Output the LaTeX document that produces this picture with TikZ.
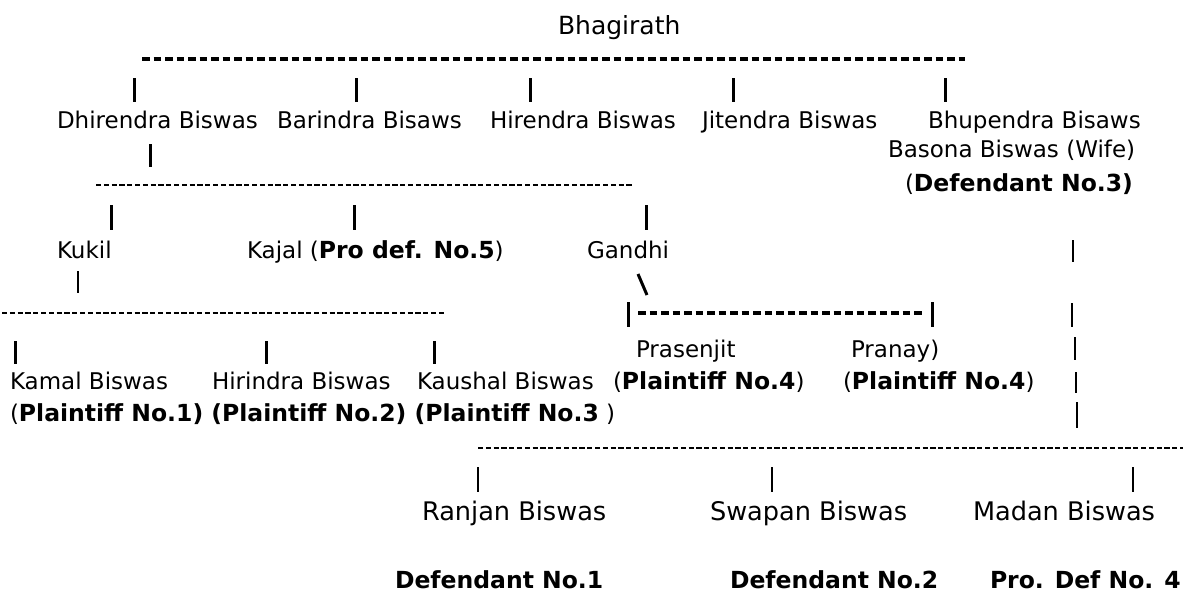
\documentclass[tikz,border=0pt]{standalone}
\usepackage{fontspec}
\setmainfont{DejaVu Sans}
\newcommand\mybf[1]{{\fontsize{23.5}{28}\selectfont\bfseries #1}}
\begin{document}
\begin{tikzpicture}[x=1pt,y=-1pt,
  lbl/.style={anchor=base west, inner sep=0pt, outer sep=0pt, font=\fontsize{23}{28}\selectfont},
  lblbig/.style={lbl, font=\fontsize{25.6}{30}\selectfont},
  lblbold/.style={lbl, font=\fontsize{23.5}{28}\selectfont\bfseries},
  bolddash/.style={line width=3.4pt, dash pattern=on 7.6pt off 3.9pt},
  thindash/.style={line width=1.7pt, dash pattern=on 5.2pt off 2.6pt},
  boldbar/.style={line width=3pt},
  thinbar/.style={line width=1.5pt}]
\useasboundingbox (0,0) rectangle (1183,594);

% generation 1
\node[lbl, font=\fontsize{25}{30}\selectfont] (bhag) at (558,35) {Bhagirath};
\coordinate (r1a) at (142,59); \coordinate (r1b) at (965,59);
\draw[bolddash] (r1a) -- (r1b);
\foreach \i/\x in {1/134,2/356,3/530,4/733,5/945}{
  \coordinate (ta\i) at (\x,78); \coordinate (ba\i) at (\x,102);
  \draw[boldbar] (ta\i) -- (ba\i);
}

% generation 2
\node[lbl] (dhir) at (57,128) {Dhirendra Biswas};
\node[lbl] (bari) at (277,128) {Barindra Bisaws};
\node[lbl] (hire) at (490,128) {Hirendra Biswas};
\node[lbl] (jite) at (702,128) {Jitendra Biswas};
\node[lbl] (bhup) at (928,128) {Bhupendra Bisaws};
\node[lbl] (baso) at (888,157) {Basona Biswas (Wife)};
\node[lbl] (def3) at (905,191) {(\mybf{Defendant No.3)}};

\coordinate (dpa) at (150,144); \coordinate (dpb) at (150,167);
\draw[boldbar] (dpa) -- (dpb);
\coordinate (r2a) at (96,185); \coordinate (r2b) at (634,185);
\draw[thindash] (r2a) -- (r2b);
\foreach \i/\x in {1/111,2/354,3/646}{
  \coordinate (tb\i) at (\x,205); \coordinate (bb\i) at (\x,230);
  \draw[boldbar] (tb\i) -- (bb\i);
}

% generation 3
\node[lbl] (kuki) at (57,258) {Kukil};
\node[lbl] (kaja) at (247,258) {Kajal (\mybf{Pro def. No.5})};
\node[lbl] (gand) at (587,258) {Gandhi};

\coordinate (kpa) at (78,271); \coordinate (kpb) at (78,293);
\draw[thinbar] (kpa) -- (kpb);
\coordinate (bsa) at (638,274); \coordinate (bsb) at (647,295);
\draw[boldbar] (bsa) -- (bsb);
\coordinate (r3a) at (2,313); \coordinate (r3b) at (444,313);
\draw[thindash] (r3a) -- (r3b);
\coordinate (gla) at (628,302); \coordinate (glb) at (628,327);
\coordinate (gra) at (932,302); \coordinate (grb) at (932,327);
\coordinate (gda) at (638,313); \coordinate (gdb) at (922,313);
\draw[boldbar] (gla) -- (glb);
\draw[boldbar] (gra) -- (grb);
\draw[bolddash] (gda) -- (gdb);
\foreach \i/\x in {1/15,2/266,3/434}{
  \coordinate (tc\i) at (\x,341); \coordinate (bc\i) at (\x,364);
  \draw[boldbar] (tc\i) -- (bc\i);
}

% right-hand column of bars
\foreach \i/\x/\ya/\yb in {1/1073/240/262,2/1072/303/327,3/1075/337/360,4/1076/372/393,5/1077/402/428}{
  \coordinate (va\i) at (\x,\ya); \coordinate (vb\i) at (\x,\yb);
  \draw[thinbar] (va\i) -- (vb\i);
}

% generation 4
\node[lbl] (pras) at (636,357) {Prasenjit};
\node[lbl] (pran) at (851,357) {Pranay)};
\node[lbl] (kama) at (10,389) {Kamal Biswas};
\node[lbl] (hiri) at (212,389) {Hirindra Biswas};
\node[lbl] (kaus) at (417,389) {Kaushal Biswas};
\node[lbl] (pl4a) at (613,389) {(\mybf{Plaintiff No.4})};
\node[lbl] (pl4b) at (843,389) {(\mybf{Plaintiff No.4})};
\node[lbl] (pl13) at (10,421) {(\mybf{Plaintiff No.1) (Plaintiff No.2) (Plaintiff No.3} )};

% Bhupendra's sons
\coordinate (r4a) at (478,448); \coordinate (r4b) at (1183,448);
\draw[thindash] (r4a) -- (r4b);
\foreach \i/\x in {1/478,2/772,3/1133}{
  \coordinate (td\i) at (\x,467); \coordinate (bd\i) at (\x,492);
  \draw[line width=2.8pt] (td\i) -- (bd\i);
}
\node[lblbig] (ranj) at (422,520) {Ranjan Biswas};
\node[lblbig] (swap) at (710,520) {Swapan Biswas};
\node[lblbig] (mada) at (973,520) {Madan Biswas};
\node[lblbold] (dno1) at (395,588) {Defendant No.1};
\node[lblbold] (dno2) at (730,588) {Defendant No.2};
\node[lblbold] (pdf4) at (990,588) {Pro. Def No. 4};
\end{tikzpicture}
\end{document}
